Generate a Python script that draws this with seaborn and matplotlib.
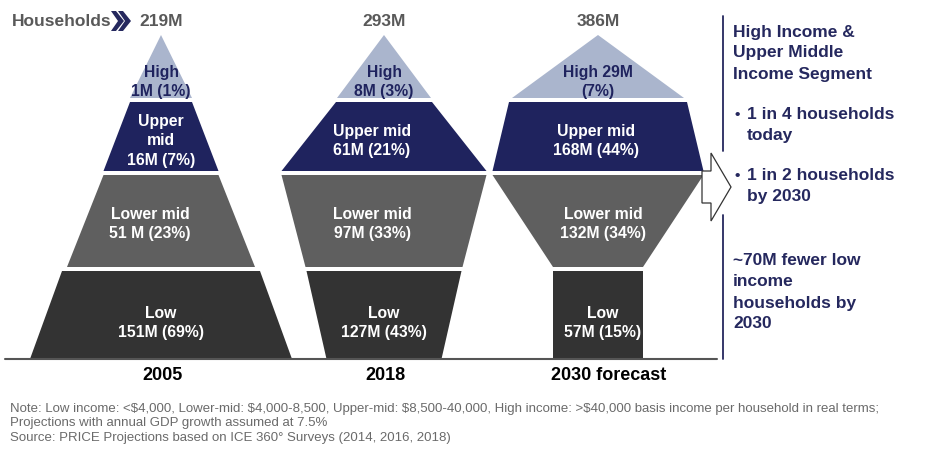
import seaborn as sns
import matplotlib.pyplot as plt

# data (households in millions, share in %)
years = ['2005', '2018', '2030 forecast']
totals = [219, 293, 386]
segments = ['High', 'Upper mid', 'Lower mid', 'Low']
households_2005 = [1, 16, 51, 151]
households_2018 = [8, 61, 97, 127]
households_2030 = [29, 168, 132, 57]
share_2005 = [1, 7, 23, 69]
share_2018 = [3, 21, 33, 43]
share_2030 = [7, 44, 34, 15]

# outline of each pyramid: (top width, bottom width) per segment
profile_2005 = [(0, 62), (62, 115), (115, 188), (198, 262)]
profile_2018 = [(0, 94), (96, 205), (205, 157), (155, 115)]
profile_2030 = [(0, 172), (178, 211), (211, 90), (90, 90)]

# label templates (line breaks differ per column in the original)
labels_2005 = ['{s}\n{h}M ({p}%)', 'Upper\nmid\n{h}M ({p}%)', '{s}\n{h} M ({p}%)', '{s}\n{h}M ({p}%)']
labels_2018 = ['{s}\n{h}M ({p}%)'] * 4
labels_2030 = ['{s} {h}M\n({p}%)', '{s}\n{h}M ({p}%)', '{s}\n{h}M ({p}%)', '{s}\n{h}M ({p}%)']

note_lines = [
    'Note: Low income: <$4,000, Lower-mid: $4,000-8,500, Upper-mid: $8,500-40,000, '
    'High income: >$40,000 basis income per household in real terms;',
    'Projections with annual GDP growth assumed at 7.5%',
    'Source: PRICE Projections based on ICE 360\u00b0 Surveys (2014, 2016, 2018)',
]

# colours
seg_colors = ['#aab5cd', '#1f235e', '#5f5f5f', '#333333']
seg_text = ['#1f235e', 'white', 'white', 'white']
navy = '#25285e'
grey_txt = '#595959'

sns.set_theme(style='white')
plt.rcParams['font.family'] = ['Liberation Sans', 'DejaVu Sans']

fig = plt.figure(figsize=(9.3, 4.56), dpi=100)
ax = fig.add_axes([0, 0, 1, 1])
ax.set_xlim(0, 930)
ax.set_ylim(456, 0)
ax.axis('off')

# layout (pixel-like units)
centers = [161, 384, 598]
band_top = [36, 103, 176, 272]
band_bot = [99, 172, 268, 360]
label_y = [82, 141, 224, 323]
label_dx = [[0, 0, -11, 0], [0, -12, -12, 0], [0, -2, 5, 5]]
year_dx = [1, 1, 11]

households = [households_2005, households_2018, households_2030]
shares = [share_2005, share_2018, share_2030]
profiles = [profile_2005, profile_2018, profile_2030]
templates = [labels_2005, labels_2018, labels_2030]

for i, cx in enumerate(centers):
    for j, seg in enumerate(segments):
        wt, wb = profiles[i][j]
        yt, yb = band_top[j], band_bot[j]
        ax.fill([cx - wt / 2, cx + wt / 2, cx + wb / 2, cx - wb / 2],
                [yt, yt, yb, yb], color=seg_colors[j], lw=0, zorder=2)
        txt = templates[i][j].format(s=seg, h=households[i][j], p=shares[i][j])
        ax.text(cx + label_dx[i][j], label_y[j], txt, ha='center', va='center',
                fontsize=11.3, fontweight='bold', color=seg_text[j],
                linespacing=1.36, zorder=3)
    ax.text(cx, 22, f'{totals[i]}M', ha='center', va='center', fontsize=12.5,
            fontweight='bold', color=grey_txt)
    ax.text(cx + year_dx[i], 376, years[i], ha='center', va='center', fontsize=13,
            fontweight='bold', color='black')

# baseline
ax.plot([5, 717], [360, 360], color='#555555', lw=1.5, zorder=4)

# header
ax.text(12, 22, 'Households', ha='left', va='center', fontsize=12.5,
        fontweight='bold', color=grey_txt)
for x0 in (111, 118):
    ax.fill([x0, x0 + 5, x0 + 13, x0 + 5, x0, x0 + 7],
            [12, 12, 22, 32, 32, 22], color=navy, lw=0)

# right divider with the arrow
ax.plot([723, 723], [17, 152], color=navy, lw=1.3)
ax.plot([723, 723], [216, 360], color=navy, lw=1.3)
ax.fill([702, 711, 711, 731, 711, 711, 702], [172, 172, 154, 188, 222, 204, 204],
        facecolor='white', edgecolor='#333333', lw=0.9, zorder=5)

# right-hand commentary
right_x = 733
fs_r = 12.5
for y, line in zip([33, 53, 74], ['High Income &', 'Upper Middle', 'Income Segment']):
    ax.text(right_x, y, line, ha='left', va='center', fontsize=fs_r,
            fontweight='bold', color=navy)
for y0, (a, b) in zip([115, 176], [('1 in 4 households', 'today'),
                                    ('1 in 2 households', 'by 2030')]):
    ax.text(right_x + 1, y0, '\u2022', ha='left', va='center', fontsize=11,
            fontweight='bold', color=navy)
    ax.text(right_x + 14, y0, a, ha='left', va='center', fontsize=fs_r,
            fontweight='bold', color=navy)
    ax.text(right_x + 14, y0 + 21, b, ha='left', va='center', fontsize=fs_r,
            fontweight='bold', color=navy)
for y, line in zip([261, 282, 304, 324],
                   ['~70M fewer low', 'income', 'households by', '2030']):
    ax.text(right_x, y, line, ha='left', va='center', fontsize=fs_r,
            fontweight='bold', color=navy)

# footnote
for y, line in zip([409, 423, 438], note_lines):
    ax.text(10, y, line, ha='left', va='center', fontsize=9.5, color='#6a6a6a',
            parse_math=False)

fig.savefig('out.png', dpi=100, facecolor='white')
